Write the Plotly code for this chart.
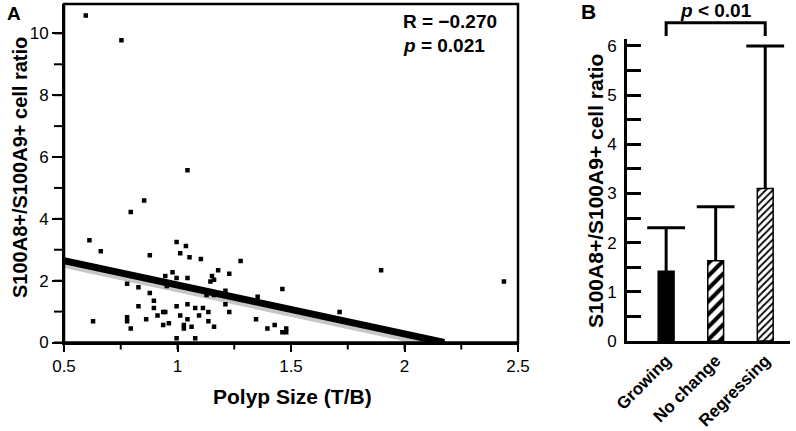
import plotly.graph_objects as go

# ---- Panel A data ----
polyp_size = [0.596, 0.753, 1.044, 0.853, 0.794, 0.612, 0.662, 0.628, 0.778, 0.828,
              0.878, 0.878, 0.828, 0.778, 0.778, 0.794, 0.862, 0.896, 0.896, 0.912,
              0.937, 0.946, 0.937, 0.962, 0.946, 0.953, 0.978, 0.996, 0.996, 1.012,
              1.037, 1.053, 1.044, 0.996, 1.012, 1.028, 1.028, 0.996, 1.044, 1.044,
              1.062, 1.078, 1.078, 1.095, 1.103, 1.112, 1.128, 1.136, 1.136, 1.145,
              1.152, 1.161, 1.161, 1.161, 1.179, 1.211, 1.211, 1.228, 1.228, 1.278,
              1.353, 1.346, 1.396, 1.428, 1.462, 1.462, 1.479, 1.479, 1.714, 1.897,
              2.438]
cell_ratio = [10.58, 9.78, 5.57, 4.59, 4.22, 3.31, 2.95, 0.69, 1.90, 1.79,
              2.82, 1.60, 1.17, 0.82, 0.69, 0.45, 0.75, 1.35, 1.12, 0.87,
              0.99, 0.99, 0.57, 0.62, 2.15, 1.83, 2.27, 2.09, 3.25, 2.89,
              3.12, 2.76, 2.09, 1.17, 0.87, 0.57, 0.45, 0.14, 1.24, 0.75,
              0.51, 0.14, 1.12, 0.87, 2.70, 1.12, 1.54, 0.99, 0.69, 1.97,
              2.15, 2.03, 1.54, 0.51, 2.34, 1.67, 1.24, 2.22, 0.99, 2.64,
              1.48, 0.75, 0.45, 0.57, 1.73, 0.33, 0.45, 0.33, 0.99, 2.34,
              1.97]
fit_x = [0.5, 2.175]
fit_y = [2.65, 0.0]
x_tick_values = [0.5, 0.75, 1.0, 1.25, 1.5, 1.75, 2.0, 2.25, 2.5]
y_tick_values = [0, 1, 2, 3, 4, 5, 6, 7, 8, 9, 10]

# ---- Panel B data ----
groups = ["Growing", "No change", "Regressing"]
group_mean = [1.42, 1.63, 3.10]
group_upper = [2.30, 2.73, 6.00]

FONT = "Liberation Sans, Arial, sans-serif"
W, H = 796, 431
XR_A = [0.5, 2.5]
YR_A = [0, 10.95]
XDOM_A = [64 / W, 518 / W]
YDOM_A = [1 - 342.5 / H, 1 - 4 / H]

fig = go.Figure()

# regression shadow (slightly lower, on an offset overlay axis) + line
fig.add_trace(go.Scatter(x=fit_x, y=fit_y, mode="lines", xaxis="x", yaxis="y3",
                         line=dict(color="rgba(0,0,0,0.22)", width=9),
                         hoverinfo="skip", showlegend=False))
fig.add_trace(go.Scatter(x=fit_x, y=fit_y, mode="lines", xaxis="x", yaxis="y",
                         line=dict(color="black", width=7), showlegend=False))
fig.add_trace(go.Scatter(x=polyp_size, y=cell_ratio, mode="markers", xaxis="x", yaxis="y",
                         marker=dict(symbol="square", size=4.5, color="black"),
                         showlegend=False))

# error stems and caps (upper only)
for i, g in enumerate(groups):
    fig.add_trace(go.Scatter(x=[g, g], y=[group_mean[i], group_upper[i]], mode="lines",
                             xaxis="x2", yaxis="y2", line=dict(color="black", width=3),
                             showlegend=False, cliponaxis=False))
fig.add_trace(go.Scatter(x=groups, y=group_upper, mode="markers", xaxis="x2", yaxis="y2",
                         marker=dict(symbol="line-ew", size=27,
                                     line=dict(color="black", width=3)),
                         showlegend=False, cliponaxis=False))

# bars
fills = ["black", "white", "white"]
patterns = [dict(shape=""),
            dict(shape="/", size=9, solidity=0.45, fgcolor="black", bgcolor="white"),
            dict(shape="/", size=5, solidity=0.35, fgcolor="black", bgcolor="white")]
for i, g in enumerate(groups):
    fig.add_trace(go.Bar(x=[g], y=[group_mean[i]], xaxis="x2", yaxis="y2",
                         width=0.32,
                         marker=dict(color=fills[i], pattern=patterns[i],
                                     line=dict(color="black", width=1.5)),
                         showlegend=False))

axis_common = dict(showgrid=False, zeroline=False, showline=True, linecolor="black",
                   tickcolor="black", automargin=False)
tick_font = dict(family=FONT, size=17, color="black")

# outside tick marks of panel A, placed through the axis range/domain mapping
def x_to_paper(v):
    return XDOM_A[0] + (v - XR_A[0]) / (XR_A[1] - XR_A[0]) * (XDOM_A[1] - XDOM_A[0])

def y_to_paper(v):
    return YDOM_A[0] + (v - YR_A[0]) / (YR_A[1] - YR_A[0]) * (YDOM_A[1] - YDOM_A[0])

tick_shapes = []
for v in x_tick_values:
    xp = x_to_paper(v)
    tick_shapes.append(dict(type="line", xref="paper", yref="paper", x0=xp, x1=xp,
                            y0=YDOM_A[0], y1=YDOM_A[0] - 7 / H,
                            line=dict(color="black", width=2)))
for v in y_tick_values:
    yp = y_to_paper(v)
    tick_shapes.append(dict(type="line", xref="paper", yref="paper", x0=XDOM_A[0],
                            x1=XDOM_A[0] - 10 / W, y0=yp, y1=yp,
                            line=dict(color="black", width=2)))

fig.update_layout(
    template="none",
    width=W, height=H,
    margin=dict(l=0, r=0, t=0, b=0, autoexpand=False),
    plot_bgcolor="white", paper_bgcolor="white",
    barmode="overlay", showlegend=False,
    xaxis=dict(**axis_common, tickfont=tick_font, domain=XDOM_A, range=XR_A,
               linewidth=2, ticks="outside", ticklen=7, tickwidth=2,
               dtick=0.5, tick0=0.5, anchor="y"),
    yaxis=dict(**axis_common, tickfont=tick_font, domain=YDOM_A, range=YR_A,
               linewidth=2, ticks="outside", ticklen=10, tickwidth=2,
               dtick=2, tick0=0, anchor="x"),
    yaxis3=dict(domain=YDOM_A, range=[0.09, 11.04], overlaying="y",
                visible=False, anchor="x"),
    xaxis2=dict(**axis_common, domain=[627/W, 790/W], range=[-0.79, 2.5],
                linewidth=3, ticks="", tickangle=-45, type="category",
                tickfont=dict(family=FONT, size=17, color="black", weight="bold"),
                anchor="y2"),
    yaxis2=dict(**axis_common, tickfont=tick_font, domain=[1-341/H, 1-39/H], range=[0, 6.14],
                linewidth=3, ticks="inside", ticklen=14, tickwidth=3, dtick=1, tick0=0,
                minor=dict(dtick=0.5, ticks="inside", ticklen=14, tickwidth=3, tickcolor="black",
                           showgrid=False),
                ticklabelstandoff=4, anchor="x2"),
    shapes=[
        dict(type="rect", xref="x domain", yref="y domain", x0=0, x1=1, y0=0, y1=1,
             line=dict(color="black", width=2.5), layer="above"),
        dict(type="path", xref="x2", yref="paper",
             path=f"M 0,{1-36/H} L 0,{1-22.7/H} L 2,{1-22.7/H} L 2,{1-36/H}",
             line=dict(color="black", width=3)),
    ] + tick_shapes,
    annotations=[
        dict(text="<b>A</b>", xref="paper", yref="paper", x=14/W, y=1-13/H,
             xanchor="center", yanchor="middle",
             showarrow=False, font=dict(family=FONT, size=19, color="black")),
        dict(text="<b>B</b>", xref="paper", yref="paper", x=588/W, y=1-12/H,
             xanchor="center", yanchor="middle",
             showarrow=False, font=dict(family=FONT, size=21, color="black")),
        dict(text="<b>R = \u22120.270</b>", xref="paper", yref="paper", x=401/W, y=1-21.5/H,
             xanchor="left", yanchor="middle",
             showarrow=False, font=dict(family=FONT, size=19, color="black")),
        dict(text="<b><i>p</i> = 0.021</b>", xref="paper", yref="paper", x=401/W, y=1-46/H,
             xanchor="left", yanchor="middle",
             showarrow=False, font=dict(family=FONT, size=19, color="black")),
        dict(text="<b><i>p</i> &lt; 0.01</b>", xref="x2", yref="paper", x=1, y=1-10/H,
             xanchor="center", yanchor="middle",
             showarrow=False, font=dict(family=FONT, size=19, color="black")),
        dict(text="<b>S100A8+/S100A9+ cell ratio</b>", xref="paper", yref="paper",
             x=20/W, y=1-168/H, textangle=-90, xanchor="center", yanchor="middle",
             showarrow=False, font=dict(family=FONT, size=20, color="black")),
        dict(text="<b>S100A8+/S100A9+ cell ratio</b>", xref="paper", yref="paper",
             x=595/W, y=1-191/H, textangle=-90, xanchor="center", yanchor="middle",
             showarrow=False, font=dict(family=FONT, size=21, color="black")),
        dict(text="<b>Polyp Size (T/B)</b>", xref="paper", yref="paper",
             x=292/W, y=1-396/H, xanchor="center", yanchor="middle", showarrow=False,
             font=dict(family=FONT, size=21, color="black")),
    ],
)

fig.write_html("out.html", config={"displayModeBar": False},
               post_script="document.body.style.margin='0';document.body.style.padding='0';")
